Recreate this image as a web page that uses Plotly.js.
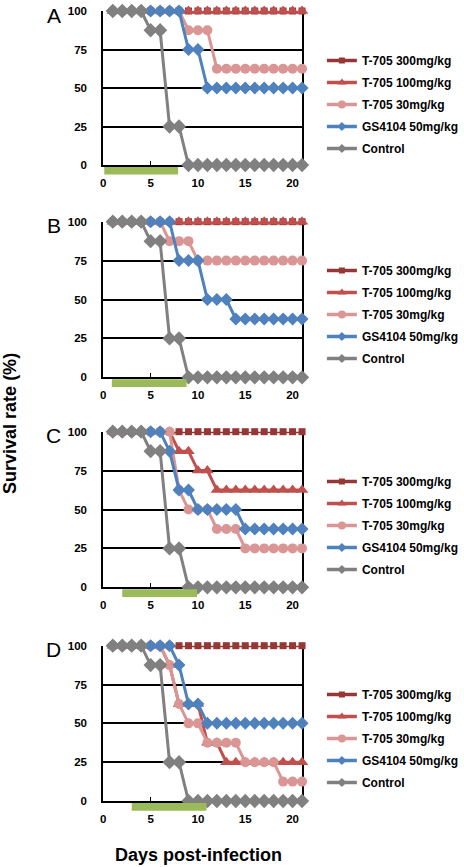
<!DOCTYPE html>
<html>
<head>
<meta charset="utf-8">
<script src="https://cdn.plot.ly/plotly-3.0.1.min.js"></script>
<style>html,body{margin:0;padding:0;background:#fff;}#chart{width:464px;height:867px;}</style>
</head>
<body>
<div id="chart"></div>
<script>
// ---- data ----
const days = [1,2,3,4,5,6,7,8,9,10,11,12,13,14,15,16,17,18,19,20,21];
const seriesNames = ['T-705 300mg/kg','T-705 100mg/kg','T-705 30mg/kg','GS4104 50mg/kg','Control'];
const panelLetters = ['A','B','C','D'];
const xTicks = [0,5,10,15,20];
const yTicks = [0,25,50,75,100];

// Panel A
const A_t300 = [100,100,100,100,100,100,100,100,100,100,100,100,100,100,100,100,100,100,100,100,100];
const A_t100 = [100,100,100,100,100,100,100,100,100,100,100,100,100,100,100,100,100,100,100,100,100];
const A_t30  = [100,100,100,100,100,100,100,100,87.5,87.5,87.5,62.5,62.5,62.5,62.5,62.5,62.5,62.5,62.5,62.5,62.5];
const A_gs   = [100,100,100,100,100,100,100,100,75,75,50,50,50,50,50,50,50,50,50,50,50];
const A_ctrl = [100,100,100,100,87.5,87.5,25,25,0,0,0,0,0,0,0,0,0,0,0,0,0];
// Panel B
const B_t300 = [100,100,100,100,100,100,100,100,100,100,100,100,100,100,100,100,100,100,100,100,100];
const B_t100 = [100,100,100,100,100,100,100,100,100,100,100,100,100,100,100,100,100,100,100,100,100];
const B_t30  = [100,100,100,100,100,100,87.5,87.5,87.5,75,75,75,75,75,75,75,75,75,75,75,75];
const B_gs   = [100,100,100,100,100,100,100,75,75,75,50,50,50,37.5,37.5,37.5,37.5,37.5,37.5,37.5,37.5];
const B_ctrl = [100,100,100,100,87.5,87.5,25,25,0,0,0,0,0,0,0,0,0,0,0,0,0];
// Panel C
const C_t300 = [100,100,100,100,100,100,100,100,100,100,100,100,100,100,100,100,100,100,100,100,100];
const C_t100 = [100,100,100,100,100,100,100,87.5,87.5,75,75,62.5,62.5,62.5,62.5,62.5,62.5,62.5,62.5,62.5,62.5];
const C_t30  = [100,100,100,100,100,100,100,62.5,50,50,50,37.5,37.5,37.5,25,25,25,25,25,25,25];
const C_gs   = [100,100,100,100,100,100,87.5,62.5,62.5,50,50,50,50,50,37.5,37.5,37.5,37.5,37.5,37.5,37.5];
const C_ctrl = [100,100,100,100,87.5,87.5,25,25,0,0,0,0,0,0,0,0,0,0,0,0,0];
// Panel D
const D_t300 = [100,100,100,100,100,100,100,100,100,100,100,100,100,100,100,100,100,100,100,100,100];
const D_t100 = [100,100,100,100,100,100,87.5,62.5,62.5,62.5,37.5,37.5,25,25,25,25,25,25,25,25,25];
const D_t30  = [100,100,100,100,100,100,87.5,62.5,50,50,37.5,37.5,37.5,37.5,25,25,25,25,12.5,12.5,12.5];
const D_gs   = [100,100,100,100,100,100,100,87.5,62.5,62.5,50,50,50,50,50,50,50,50,50,50,50];
const D_ctrl = [100,100,100,100,87.5,87.5,25,25,0,0,0,0,0,0,0,0,0,0,0,0,0];

// treatment period bars (green), days
const treatStart = [0.1, 0.9, 2.0, 3.0];
const treatEnd   = [7.9, 8.8, 9.9, 10.9];

// ---- styles ----
const colors = ['#953735','#C0504D','#D99694','#4F81BD','#808080'];
const symbols = ['square','triangle-up','circle','diamond','diamond'];
const msizes = [7,11,10,10,11];
const legSizes = [6,8,8,7,7];
const FONT = 'Liberation Sans, Arial, sans-serif';

const panels = [
  [A_t300,A_t100,A_t30,A_gs,A_ctrl],
  [B_t300,B_t100,B_t30,B_gs,B_ctrl],
  [C_t300,C_t100,C_t30,C_gs,C_ctrl],
  [D_t300,D_t100,D_t30,D_gs,D_ctrl]
];
// pixel geometry (top of 100 line, bottom 0 line)
const H = 867, W = 464;
const panelPx = [[11,165],[221.7,377.3],[431.7,587.3],[645.7,801]];
const xPx = [104,304];
const legendTopPx = [46, 256, 467, 680];

const traces = [];
const layout = {
  width: W, height: H,
  margin: {l:0,r:0,t:0,b:0},
  paper_bgcolor: '#fff', plot_bgcolor: 'rgba(0,0,0,0)',
  font: {family: FONT, color: '#000'},
  showlegend: true,
  shapes: [], annotations: []
};

panels.forEach((series, p) => {
  const sfx = p === 0 ? '' : String(p+1);
  const legName = 'legend' + sfx;
  series.forEach((vals, i) => {
    traces.push({
      type: 'scatter', mode: 'lines+markers',
      x: days, y: vals,
      xaxis: 'x' + sfx, yaxis: 'y' + sfx,
      name: seriesNames[i],
      showlegend: false,
      cliponaxis: false,
      line: {color: colors[i], width: 3},
      marker: {color: colors[i], symbol: symbols[i], size: msizes[i]},
      hoverinfo: 'x+y+name'
    });
  });
  // legend entries (smaller legend glyphs, as in the original)
  series.forEach((vals, i) => {
    traces.push({
      type: 'scatter', mode: 'lines+markers',
      x: [null], y: [null],
      xaxis: 'x' + sfx, yaxis: 'y' + sfx,
      name: seriesNames[i],
      legend: legName,
      legendgroup: 'p' + p + 's' + i,
      showlegend: true,
      line: {color: colors[i], width: 3.5},
      marker: {color: colors[i], symbol: symbols[i], size: legSizes[i]},
      hoverinfo: 'skip'
    });
  });
  const top = 1 - panelPx[p][0]/H, bot = 1 - panelPx[p][1]/H;
  layout['xaxis' + sfx] = {
    domain: [xPx[0]/W, xPx[1]/W], range: [0,21], anchor: 'y' + sfx,
    tickvals: xTicks, ticks: 'inside', ticklen: 4, tickwidth: 1.5, tickcolor: '#000',
    showline: true, linewidth: 2, linecolor: '#000', showgrid: false, zeroline: false,
    tickfont: {family: FONT, size: 11.5, weight: 'bold', color: '#000'},
    ticklabelstandoff: 6, layer: 'below traces', fixedrange: true
  };
  layout['yaxis' + sfx] = {
    domain: [bot, top], range: [0,100], anchor: 'x' + sfx,
    tickvals: yTicks, ticks: '',
    showline: true, mirror: true, linewidth: 2, linecolor: '#000',
    showgrid: true, gridcolor: '#000', gridwidth: 2, zeroline: false,
    tickfont: {family: FONT, size: 11.5, weight: 'bold', color: '#000'},
    ticklabelstandoff: 12, layer: 'below traces', fixedrange: true
  };
  layout[legName] = {
    x: 324/W, y: 1 - legendTopPx[p]/H, xanchor: 'left', yanchor: 'top',
    bgcolor: 'rgba(0,0,0,0)', borderwidth: 0, tracegroupgap: 3,
    font: {family: FONT, size: 12, weight: 'bold', color: '#000'},
    itemclick: false, itemdoubleclick: false
  };
  layout.shapes.push({
    type: 'rect', xref: 'x' + sfx, yref: 'y' + sfx + ' domain',
    x0: treatStart[p], x1: treatEnd[p], y0: -0.013, y1: -0.062,
    fillcolor: '#9BBB59', line: {width: 0}, layer: 'above'
  });
  layout.annotations.push({
    text: panelLetters[p], xref: 'paper', yref: 'y' + sfx + ' domain',
    x: 54/W, y: 1, xanchor: 'center', yanchor: 'middle', yshift: -4,
    showarrow: false, font: {family: FONT, size: 21, color: '#000'}
  });
});

layout.annotations.push({
  text: '<b>Days post-infection</b>', xref: 'paper', yref: 'paper',
  x: 200/W, y: 1 - 855/H, xanchor: 'center', yanchor: 'middle',
  showarrow: false, font: {family: FONT, size: 18, color: '#000'}
});
layout.annotations.push({
  text: '<b>Survival rate (%)</b>', xref: 'paper', yref: 'paper',
  x: 10/W, y: 1 - 423/H, xanchor: 'center', yanchor: 'middle', textangle: -90,
  showarrow: false, font: {family: FONT, size: 18, color: '#000'}
});

Plotly.newPlot('chart', traces, layout, {displayModeBar: false, staticPlot: true});
</script>
</body>
</html>
